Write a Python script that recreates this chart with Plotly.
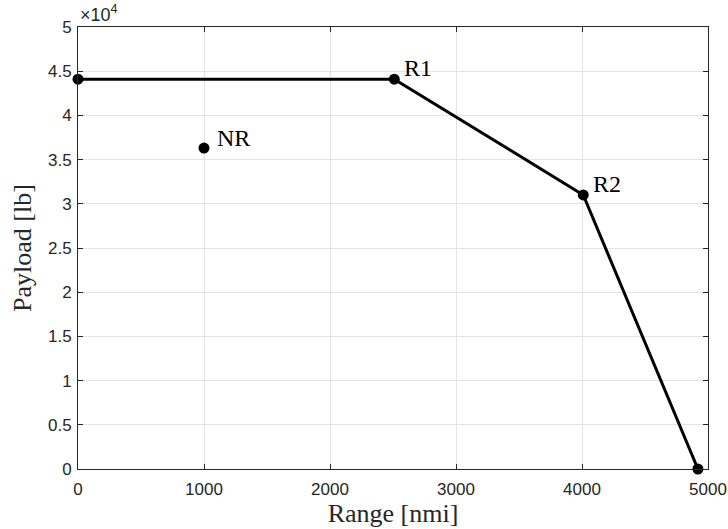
import plotly.graph_objects as go

# Data
range_nmi = [0, 2510, 4010, 4920]
payload_lb = [44100, 44100, 31000, 0]
nr_range = [1000]
nr_payload = [36300]
labels = ["R1", "R2"]
label_range = [2510, 4010]
label_payload = [44100, 31000]

x_ticks = [0, 1000, 2000, 3000, 4000, 5000]
y_ticks = [0, 5000, 10000, 15000, 20000, 25000, 30000, 35000, 40000, 45000, 50000]
y_ticktext = ["0", "0.5", "1", "1.5", "2", "2.5", "3", "3.5", "4", "4.5", "5"]

axis_col = "#262626"
grid_col = "#e3e3e3"
serif = "Liberation Serif, DejaVu Serif, serif"
sans = "Liberation Sans, Arial, sans-serif"

fig = go.Figure()
fig.add_trace(go.Scatter(
    x=range_nmi, y=payload_lb, mode="lines+markers",
    line=dict(color="black", width=3),
    marker=dict(color="black", size=11),
    showlegend=False, cliponaxis=False))
fig.add_trace(go.Scatter(
    x=nr_range, y=nr_payload, mode="markers",
    marker=dict(color="black", size=11),
    showlegend=False, cliponaxis=False))

for t, xv, yv in zip(labels, label_range, label_payload):
    fig.add_annotation(x=xv, y=yv, text=t, showarrow=False,
                       xanchor="left", yanchor="middle", xshift=8, yshift=11,
                       font=dict(family=serif, size=24, color="black"))
fig.add_annotation(x=nr_range[0], y=nr_payload[0], text="NR", showarrow=False,
                   xanchor="left", yanchor="middle", xshift=11, yshift=10,
                   font=dict(family=serif, size=24, color="black"))

fig.add_annotation(xref="paper", yref="paper", x=0, y=1, text="×10<sup>4</sup>",
                   showarrow=False, xanchor="left", yanchor="bottom", yshift=0,
                   font=dict(family=sans, size=18, color=axis_col))

fig.update_xaxes(range=[0, 5000], tickvals=x_ticks, ticks="inside", ticklen=5,
                 tickcolor=axis_col, showline=True, linecolor=axis_col, linewidth=1,
                 mirror="allticks", showgrid=True, gridcolor=grid_col, zeroline=False,
                 automargin=False, ticklabelstandoff=5,
                 tickfont=dict(family=sans, size=17, color=axis_col),
                 title=dict(text="Range [nmi]", font=dict(family=serif, size=26, color=axis_col),
                            standoff=1))
fig.update_yaxes(range=[0, 50000], tickvals=y_ticks, ticktext=y_ticktext, ticks="inside",
                 ticklen=5, tickcolor=axis_col, showline=True, linecolor=axis_col, linewidth=1,
                 mirror="allticks", showgrid=True, gridcolor=grid_col, zeroline=False,
                 automargin=False, ticklabelstandoff=2,
                 tickfont=dict(family=sans, size=17, color=axis_col),
                 title=dict(text="Payload [lb]", font=dict(family=serif, size=26, color=axis_col),
                            standoff=8))

fig.update_layout(width=728, height=529, plot_bgcolor="white", paper_bgcolor="white",
                  margin=dict(l=78, r=20, t=27, b=60))

fig.write_html("out.html", config={"displayModeBar": False},
               post_script="document.body.style.margin='0';document.body.style.overflow='hidden';")
